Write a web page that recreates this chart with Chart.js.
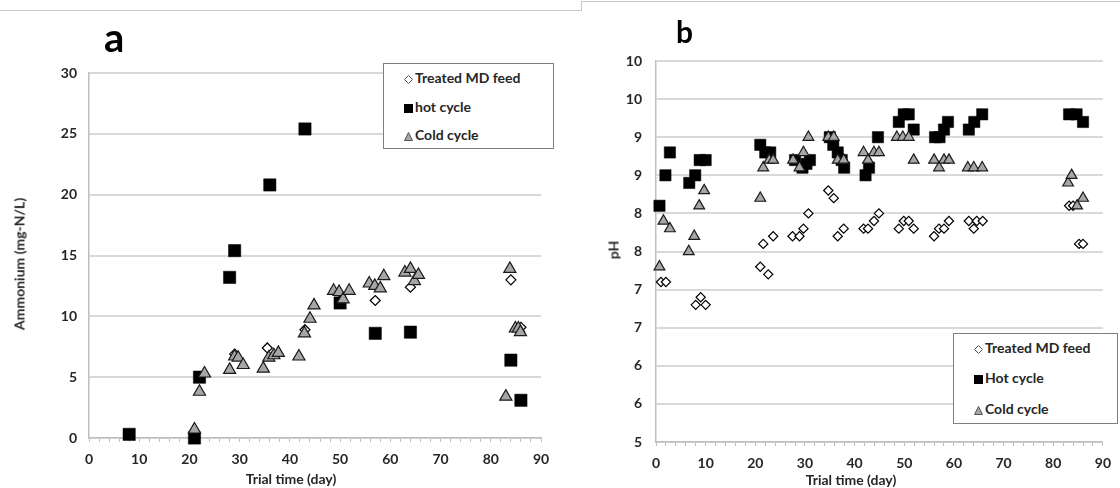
<!DOCTYPE html>
<html>
<head>
<meta charset="utf-8">
<script src="https://cdn.jsdelivr.net/npm/chart.js@4.4.1/dist/chart.umd.min.js"></script>
<style>
    body { margin: 0; background: #fff; font-family: Lato, "Open Sans", sans-serif; }
    #page { position: relative; width: 1120px; height: 488px; overflow: hidden; background: #fff; }
    .wrap { position: absolute; top: 0; width: 560px; height: 488px; }
    .line { position: absolute; background: #c8c8c8; }
    .panel-title { position: absolute; font-weight: bold; color: #000; line-height: 1; }
    .axis-title { position: absolute; font-weight: bold; font-size: 14px; color: #262626; white-space: nowrap; transform: translate(-50%, -50%); }
    .axis-title.rot { transform: translate(-50%, -50%) rotate(-90deg); }
    .legend { position: absolute; border: 1px solid #7f7f7f; background: #fff; box-sizing: border-box; }
    .legend .row { position: absolute; left: 20px; font-weight: bold; font-size: 14px; color: #262626; line-height: 16px; white-space: nowrap; }
    .legend svg { vertical-align: -1px; margin-right: 2px; }
</style>
</head>
<body>
<div id="page">
    <!-- bordes de los marcos -->
    <div class="line" style="left:0; top:10px; width:582px; height:1px;"></div>
    <div class="line" style="left:581px; top:1px; width:1px; height:10px;"></div>
    <div class="line" style="left:581px; top:1px; width:539px; height:1px;"></div>

    <div class="wrap" style="left:0;"><canvas id="chartA" width="560" height="488"></canvas></div>
    <div class="wrap" style="left:560px;"><canvas id="chartB" width="560" height="488"></canvas></div>

    <div class="panel-title" style="left:104px; top:17px; font-size:40px;">a</div>
    <div class="panel-title" style="left:676px; top:16px; font-size:30px;">b</div>

    <div class="axis-title rot" style="left:19px; top:264px;">Ammonium (mg-N/L)</div>
    <div class="axis-title" style="left:291px; top:478px;">Trial time (day)</div>
    <div class="axis-title rot" style="left:613px; top:250px;">pH</div>
    <div class="axis-title" style="left:851px; top:479px;">Trial time (day)</div>

    <div class="legend" style="left:383px; top:63px; width:171px; height:86px;">
        <div class="row" style="top:6px;"><svg width="9" height="9"><polygon points="4.5,0.5 8.5,4.5 4.5,8.5 0.5,4.5" fill="#fff" stroke="#555" stroke-width="1"/></svg>Treated MD feed</div>
        <div class="row" style="top:35px;"><svg width="9" height="9"><rect x="0" y="0" width="9" height="9" fill="#000"/></svg>hot cycle</div>
        <div class="row" style="top:63px;"><svg width="9" height="9"><polygon points="4.5,0.5 8.5,8.5 0.5,8.5" fill="#a6a6a6" stroke="#555" stroke-width="1"/></svg>Cold cycle</div>
    </div>
    <div class="legend" style="left:953px; top:333px; width:165px; height:91px;">
        <div class="row" style="top:6px;"><svg width="9" height="9"><polygon points="4.5,0.5 8.5,4.5 4.5,8.5 0.5,4.5" fill="#fff" stroke="#555" stroke-width="1"/></svg>Treated MD feed</div>
        <div class="row" style="top:36px;"><svg width="9" height="9"><rect x="0" y="0" width="9" height="9" fill="#000"/></svg>Hot cycle</div>
        <div class="row" style="top:67px;"><svg width="9" height="9"><polygon points="4.5,0.5 8.5,8.5 0.5,8.5" fill="#a6a6a6" stroke="#555" stroke-width="1"/></svg>Cold cycle</div>
    </div>
</div>

<script>
// Datos del panel a (Ammonium, mg-N/L)
const diasTratadoA = [8, 29, 35.5, 43, 50, 57, 64, 84, 86];
const tratadoA = [0.3, 6.9, 7.4, 8.9, 11.3, 11.3, 12.4, 13.0, 9.1];

const diasCalienteA = [8, 21, 22, 28, 29, 36, 43, 50, 57, 64, 84, 86];
const calienteA = [0.3, 0, 5.0, 13.2, 15.4, 20.8, 25.4, 11.1, 8.6, 8.7, 6.4, 3.1];

const diasFrioA = [21, 22, 23, 28, 29, 29.7, 30.7, 34.7, 35.8, 36.8, 37.7, 41.8, 42.9, 44, 44.8, 48.7, 49.8, 50.6, 51.8, 55.8,
    56.9, 58, 58.7, 62.9, 64, 64.8, 65.6, 83, 83.8, 84.9, 85.5, 85.9];
const frioA = [0.7, 3.8, 5.3, 5.6, 6.7, 6.6, 6.0, 5.7, 6.6, 6.8, 7.0, 6.7, 8.6, 9.8, 10.9, 12.1, 12.0, 11.4, 12.1, 12.7,
    12.5, 12.3, 13.3, 13.6, 13.9, 12.9, 13.4, 3.4, 13.9, 9.0, 9.0, 8.7];

// Datos del panel b (pH)
const diasTratadoB = [1, 2, 8, 9, 10, 21, 21.6, 22.6, 23.6, 27.5, 28.9, 29.7, 30.7, 34.7, 35.8, 36.6, 37.8, 41.8, 42.7, 43.9,
    44.9, 48.9, 49.9, 50.9, 51.9, 56, 57, 58, 59, 63, 64, 64.6, 65.8, 83.2, 84, 85.2, 86];
const tratadoB = [7.1, 7.1, 6.8, 6.9, 6.8, 7.3, 7.6, 7.2, 7.7, 7.7, 7.7, 7.8, 8.0, 8.3, 8.2, 7.7, 7.8, 7.8, 7.8, 7.9,
    8.0, 7.8, 7.9, 7.9, 7.8, 7.7, 7.8, 7.8, 7.9, 7.9, 7.8, 7.9, 7.9, 8.1, 8.1, 7.6, 7.6];

const diasCalienteB = [0.7, 1.9, 2.8, 6.7, 7.9, 8.8, 10, 21, 22, 23, 28, 29.5, 30.3, 31, 35, 35.7, 36.6, 37.4, 37.9, 42.2,
    42.9, 44.7, 48.9, 49.9, 50.9, 51.9, 56.2, 57.1, 58, 58.8, 63, 64.1, 65.7, 83.2, 84.7, 86];
const calienteB = [8.1, 8.5, 8.8, 8.4, 8.5, 8.7, 8.7, 8.9, 8.8, 8.8, 8.7, 8.6, 8.65, 8.7, 9.0, 8.9, 8.8, 8.7, 8.6, 8.5,
    8.6, 9.0, 9.2, 9.3, 9.3, 9.1, 9.0, 9.0, 9.1, 9.2, 9.1, 9.2, 9.3, 9.3, 9.3, 9.2];

const diasFrioB = [0.7, 1.5, 2.8, 6.6, 7.7, 8.7, 9.7, 21, 21.6, 22.8, 23.6, 27.6, 28.9, 29.7, 30.7, 34.7, 35.8, 36.6, 37.8, 41.8,
    42.7, 43.9, 44.9, 48.5, 49.7, 50.9, 51.9, 56, 57, 58, 59, 62.8, 64, 65.7, 83, 83.7, 84.8, 86];
const frioB = [7.3, 7.9, 7.8, 7.5, 7.7, 8.1, 8.3, 8.2, 8.6, 8.7, 8.7, 8.7, 8.6, 8.8, 9.0, 9.0, 9.0, 8.7, 8.7, 8.8,
    8.7, 8.8, 8.8, 9.0, 9.0, 9.0, 8.7, 8.7, 8.6, 8.7, 8.7, 8.6, 8.6, 8.6, 8.4, 8.5, 8.1, 8.2];

// Ejes
const xMin = 0, xMax = 90, xPaso = 2, xEtiqueta = 10;
const yRangoA = [0, 30, 5];
const yRangoB = [5, 10, 0.5];

function serie(dias, valores) {
    return dias.map((d, i) => ({ x: d, y: valores[i] }));
}

const fuenteTicks = { family: "Lato, 'Open Sans', sans-serif", size: 14, weight: 'bold' };

function crearGrafico(id, datos, rango, tam, caja) {
    const ctx = document.getElementById(id).getContext('2d');
    return new Chart(ctx, {
        type: 'scatter',
        data: {
            datasets: [
                {
                    label: 'Treated MD feed',
                    data: datos[0],
                    pointStyle: 'rectRot',
                    pointRadius: tam[0],
                    backgroundColor: '#ffffff',
                    borderColor: '#000000',
                    borderWidth: 1.2,
                    clip: false,
                    order: 3
                },
                {
                    label: 'Hot cycle',
                    data: datos[1],
                    pointStyle: 'rect',
                    pointRadius: tam[1],
                    backgroundColor: '#000000',
                    borderColor: '#000000',
                    borderWidth: 0.5,
                    clip: false,
                    order: 2
                },
                {
                    label: 'Cold cycle',
                    data: datos[2],
                    pointStyle: 'triangle',
                    pointRadius: tam[2],
                    backgroundColor: '#a6a6a6',
                    borderColor: '#1a1a1a',
                    borderWidth: 1.2,
                    clip: false,
                    order: 1
                }
            ]
        },
        options: {
            responsive: false,
            animation: false,
            events: [],
            layout: { padding: { top: caja.top, right: caja.right, left: 0, bottom: 0 } },
            plugins: { legend: { display: false }, tooltip: { enabled: false } },
            scales: {
                x: {
                    type: 'linear',
                    min: xMin,
                    max: xMax,
                    afterFit: (s) => { s.height = caja.xAlto; },
                    ticks: {
                        stepSize: xPaso,
                        autoSkip: false,
                        maxRotation: 0,
                        padding: 9,
                        color: '#262626',
                        font: fuenteTicks,
                        callback: (v) => (v % xEtiqueta === 0 ? v : '')
                    },
                    grid: { drawOnChartArea: false, drawTicks: true, tickLength: 4, color: '#bfbfbf' },
                    border: { display: true, color: '#bfbfbf', width: 1.5 }
                },
                y: {
                    type: 'linear',
                    min: rango[0],
                    max: rango[1],
                    afterFit: (s) => { s.width = caja.yAncho; },
                    ticks: {
                        stepSize: rango[2],
                        padding: caja.yPad,
                        color: '#262626',
                        font: fuenteTicks,
                        callback: (v) => Math.round(v)
                    },
                    grid: { drawTicks: false, color: '#d9d9d9', lineWidth: 2 },
                    border: { display: true, color: '#bfbfbf', width: 1.5 }
                }
            }
        }
    });
}

// Panel a
crearGrafico('chartA',
    [serie(diasTratadoA, tratadoA), serie(diasCalienteA, calienteA), serie(diasFrioA, frioA)],
    yRangoA, [5, 8.7, 7],
    { top: 73, right: 19, xAlto: 50, yAncho: 89, yPad: 12 });

// Panel b
crearGrafico('chartB',
    [serie(diasTratadoB, tratadoB), serie(diasCalienteB, calienteB), serie(diasFrioB, frioB)],
    yRangoB, [4.6, 8, 6.2],
    { top: 61, right: 12, xAlto: 46, yAncho: 96, yPad: 14 });
</script>
</body>
</html>
